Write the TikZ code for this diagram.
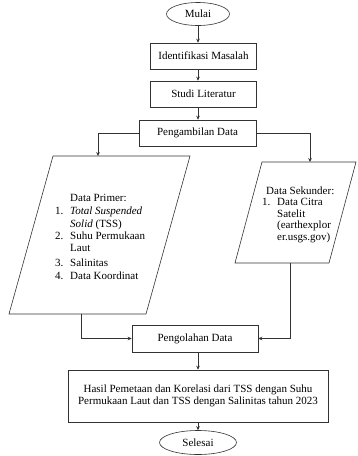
\documentclass[tikz,border=0pt]{standalone}
\usepackage{fontspec}
\setmainfont{Liberation Serif}
\usetikzlibrary{arrows.meta,shapes.geometric}
\begin{document}
\begin{tikzpicture}[x=1pt,y=-1pt,
  every node/.style={font=\fontsize{11}{12.5}\selectfont},
  flowbox/.style={draw=black!80,line width=0.6pt,minimum height=26pt,inner sep=0pt,align=center},
  term/.style={draw=black!80,line width=0.6pt,ellipse,inner sep=0pt},
  conn/.style={draw=black!80,line width=0.6pt,-{Stealth[length=4pt,width=3.6pt]}},
  plain/.style={draw=black!80,line width=0.6pt},
  txt/.style={anchor=base west,inner sep=0pt}]
\useasboundingbox (0,0) rectangle (358,456);
% terminals
\node[term,minimum width=63pt,minimum height=23pt] (mulai) at (198,14) {Mulai};
\node[flowbox,minimum width=106pt] (ident) at (203.5,56) {Identifikasi Masalah};
\node[flowbox,minimum width=106pt] (studi) at (203.5,94) {Studi Literatur};
\node[flowbox,minimum width=117pt] (ambil) at (197.5,133) {Pengambilan Data};
\node[flowbox,minimum width=126pt,minimum height=27pt] (olah) at (195,338.5) {Pengolahan Data};
\node[flowbox,minimum width=260pt,minimum height=52pt] (hasil) at (198,396) {Hasil Pemetaan dan Korelasi dari TSS dengan Suhu\\Permukaan Laut dan TSS dengan Salinitas tahun 2023};
\node[term,minimum width=77pt,minimum height=24pt] (selesai) at (198,442.5) {Selesai};
% parallelograms
\draw[plain] (53,156) coordinate (ptl) -- (190,156) -- (146,314) -- (9,314) -- cycle;
\draw[plain] (262,162) coordinate (stl) -- (356,162) -- (329,263) -- (235,263) -- cycle;
\coordinate (ptop) at (98,156);
\coordinate (pbot) at (81,314);
\coordinate (stop) at (310,162);
\coordinate (sbot) at (290,263);
% left text
\node[txt] (p0) at (70,201) {Data Primer:};
\node[txt] (p1n) at (55,214) {1.};
\node[txt] (p1) at (70,214) {\textit{Total Suspended}};
\node[txt] (p1b) at (70,227) {\textit{Solid} (TSS)};
\node[txt] (p2n) at (55,239) {2.};
\node[txt] (p2) at (70,239) {Suhu Permukaan};
\node[txt] (p2b) at (70,251) {Laut};
\node[txt] (p3n) at (55,266) {3.};
\node[txt] (p3) at (70,266) {Salinitas};
\node[txt] (p4n) at (55,279) {4.};
\node[txt] (p4) at (70,279) {Data Koordinat};
% right text
\node[txt] (s0) at (266,194) {Data Sekunder:};
\node[txt] (s1n) at (262,205.5) {1.};
\node[txt] (s1) at (277,205.5) {Data Citra};
\node[txt] (s1b) at (277,217) {Satelit};
\node[txt] (s1c) at (277,228.5) {(earthexplor};
\node[txt] (s1d) at (277,240) {er.usgs.gov)};
% connectors
\draw[conn] (mulai.south) -- (mulai.south |- ident.north);
\draw[conn] (ident.south -| mulai.south) -- (mulai.south |- studi.north);
\draw[conn] (studi.south -| mulai.south) -- (mulai.south |- ambil.north);
\draw[conn] (ambil.west) -| (ptop);
\draw[conn] (ambil.east) -| (stop);
\draw[conn] (pbot) |- (olah.west);
\draw[conn] (sbot) |- (olah.east);
\draw[conn] (olah.south -| hasil.north) -- (hasil.north);
\draw[conn] (hasil.south) -- (selesai.north);
\end{tikzpicture}
\end{document}
